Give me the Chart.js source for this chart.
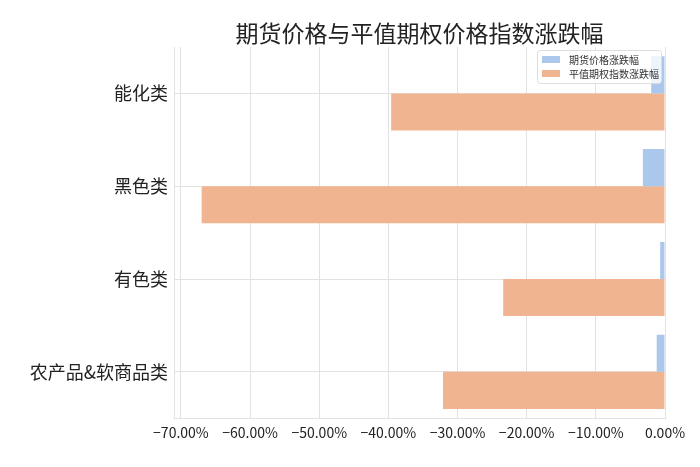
<!DOCTYPE html>
<html>
<head>
<meta charset="utf-8">
<script src="https://cdn.jsdelivr.net/npm/chart.js@4/dist/chart.umd.min.js"></script>
<style>
  html, body { margin: 0; padding: 0; background: #fff; }
  #wrap { width: 700px; height: 467px; }
</style>
</head>
<body>
<div id="wrap"><canvas id="chart" width="700" height="467"></canvas></div>
<script>
// Categories, top to bottom
const categories = ['能化类', '黑色类', '有色类', '农产品&软商品类'];
// Values in percent
const futuresChange = [-2.0, -3.2, -0.7, -1.2];
const optionChange  = [-39.6, -67.0, -23.4, -32.1];
const seriesNames   = ['期货价格涨跌幅', '平值期权指数涨跌幅'];
const chartTitle    = '期货价格与平值期权价格指数涨跌幅';

const FONT = '"Noto Sans CJK SC", "Noto Sans", sans-serif';
const BLUE = '#abc8ec';
const ORANGE = '#f0b590';

/** Title centred over the plot area, legend inside the plot at top-right */
const decorations = {
  id: 'decorations',
  afterDatasetsDraw(chart) {
    const { ctx, chartArea } = chart;
    ctx.save();
    ctx.fillStyle = '#222';
    ctx.font = '23px ' + FONT;
    ctx.textAlign = 'center';
    ctx.textBaseline = 'middle';
    ctx.fillText(chartTitle, (chartArea.left + chartArea.right) / 2, 33);

    const w = 124, h = 33;
    const x = chartArea.right - w - 4, y = chartArea.top + 3;
    ctx.fillStyle = 'rgba(255,255,255,0.8)';
    ctx.strokeStyle = '#dddddd';
    ctx.lineWidth = 1;
    ctx.beginPath();
    ctx.roundRect(x + 0.5, y + 0.5, w, h, 3);
    ctx.fill();
    ctx.stroke();
    ctx.font = '10px ' + FONT;
    ctx.textAlign = 'left';
    chart.data.datasets.forEach((ds, i) => {
      const cy = y + 10 + i * 14;
      ctx.fillStyle = ds.backgroundColor;
      ctx.fillRect(x + 5, cy - 4, 18, 7);
      ctx.fillStyle = '#333';
      ctx.fillText(ds.label, x + 32, cy);
    });
    ctx.restore();
  }
};

new Chart(document.getElementById('chart'), {
  type: 'bar',
  data: {
    labels: categories,
    datasets: [
      { label: seriesNames[0], data: futuresChange, backgroundColor: BLUE },
      { label: seriesNames[1], data: optionChange, backgroundColor: ORANGE }
    ]
  },
  options: {
    indexAxis: 'y',
    responsive: false,
    animation: false,
    layout: { padding: { top: 47, right: 35, bottom: 20, left: 0 } },
    datasets: { bar: { categoryPercentage: 0.8, barPercentage: 1.0 } },
    scales: {
      x: {
        min: -71,
        max: 0,
        afterBuildTicks: axis => {
          axis.ticks = [-70, -60, -50, -40, -30, -20, -10, 0].map(v => ({ value: v }));
        },
        grid: { color: '#e2e2e2', drawTicks: false },
        border: { color: '#e2e2e2' },
        ticks: {
          padding: 6,
          color: '#222',
          font: { family: FONT, size: 14 },
          maxRotation: 0,
          callback: v => (v < 0 ? '\u2212' : '') + Math.abs(v).toFixed(2) + '%'
        }
      },
      y: {
        afterFit: axis => { axis.width = 174; },
        grid: { color: '#e2e2e2', drawTicks: false, offset: false },
        border: { color: '#e2e2e2' },
        ticks: { padding: 6, color: '#222', font: { family: FONT, size: 18 } }
      }
    },
    plugins: {
      legend: { display: false },
      tooltip: { enabled: false },
      title: { display: false }
    }
  },
  plugins: [decorations]
});
</script>
</body>
</html>
